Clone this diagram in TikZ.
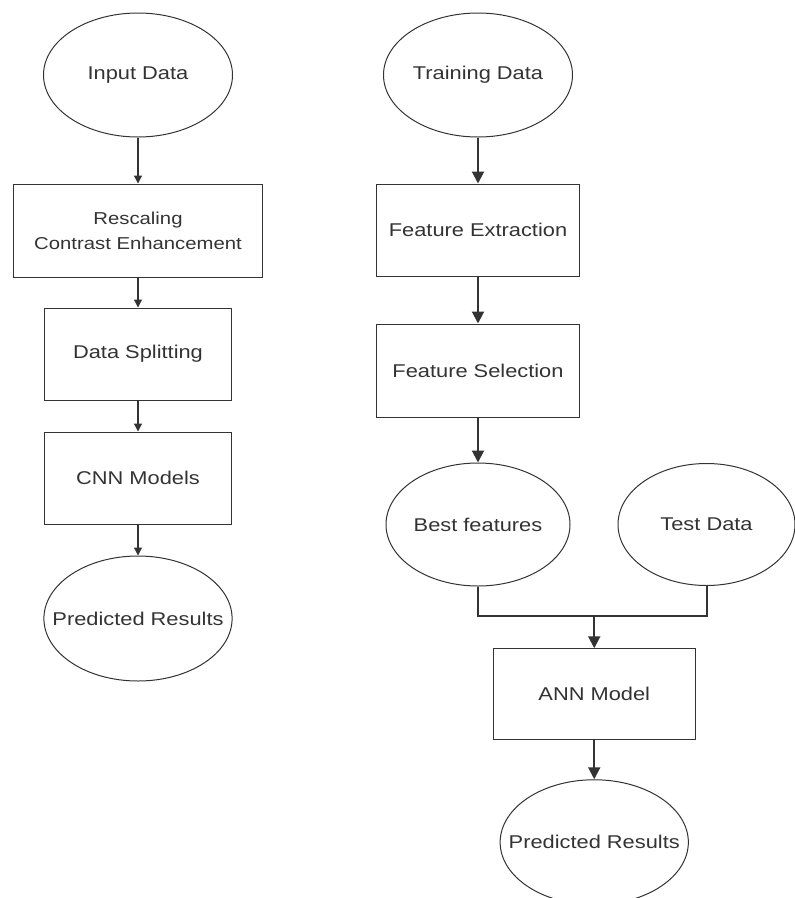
\documentclass[tikz,border=0pt]{standalone}
\usepackage{fontspec}
\setmainfont[FakeStretch=1.18]{Liberation Sans}
\usetikzlibrary{arrows.meta,positioning,calc,shapes.geometric}
\definecolor{linegray}{HTML}{333333}

\begin{document}
\begin{tikzpicture}[
  term/.style={draw=linegray, ellipse, line width=1pt, inner sep=0pt, minimum width=189pt, minimum height=124pt, align=center, font=\fontsize{18.5}{25}\selectfont, text=linegray},
  proc/.style={draw=linegray, rectangle, line width=1pt, inner sep=0pt, minimum width=187pt, minimum height=92pt, align=center, font=\fontsize{18.5}{25}\selectfont, text=linegray},
  arr/.style={-{Triangle[length=8pt,width=8pt]}, line width=1.2pt, linegray},
  arrb/.style={-{Triangle[length=12pt,width=12pt]}, line width=2pt, linegray},
  joint/.style={line width=2pt, linegray}
]
  \useasboundingbox (0,0) rectangle (795pt,-898pt);

  % left column: CNN pipeline
  \node[term] (inL) at (138pt,-75pt) {Input Data};
  \node[proc, below=46pt of inL, minimum width=249pt, minimum height=93pt, font=\fontsize{17.2}{25}\selectfont] (resc) {Rescaling\\Contrast Enhancement};
  \node[proc, below=30pt of resc] (split) {Data Splitting};
  \node[proc, below=31pt of split] (cnn) {CNN Models};
  \node[term, below=31pt of cnn, minimum width=188pt, minimum height=125pt, inner xsep=-19pt] (predL) {Predicted Results};

  % right column: ANN pipeline
  \node[term] (train) at (478pt,-75pt) {Training Data};
  \node[proc, below=46pt of train, minimum width=203pt] (fext) {Feature Extraction};
  \node[proc, below=47pt of fext, minimum width=203pt, minimum height=93pt] (fsel) {Feature Selection};
  \node[term, below=45pt of fsel, minimum width=184pt, minimum height=123pt] (best) {Best features};
  \node[term, right=47pt of best, minimum width=177pt, minimum height=122pt] (test) {Test Data};
  \node[proc, below=62pt of $(best.south)!0.5!(test.south)$, xshift=2pt, minimum width=202pt, minimum height=91pt] (ann) {ANN Model};
  \node[term, below=39pt of ann, minimum width=188pt, minimum height=125pt, inner xsep=-19pt] (predR) {Predicted Results};
  \coordinate (mrg) at ($(ann.north)+(0,32pt)$);

  \draw[arr] (inL) -- (resc);
  \draw[arr] (resc) -- (split);
  \draw[arr] (split) -- (cnn);
  \draw[arr] (cnn) -- (predL);

  \draw[arrb] (train) -- (fext);
  \draw[arrb] (fext) -- (fsel);
  \draw[arrb] (fsel) -- (best);
  \draw[joint] (best) |- (mrg) -| (test);
  \draw[arrb] (mrg) -- (ann);
  \draw[arrb] (ann) -- (predR);
\end{tikzpicture}
\end{document}
